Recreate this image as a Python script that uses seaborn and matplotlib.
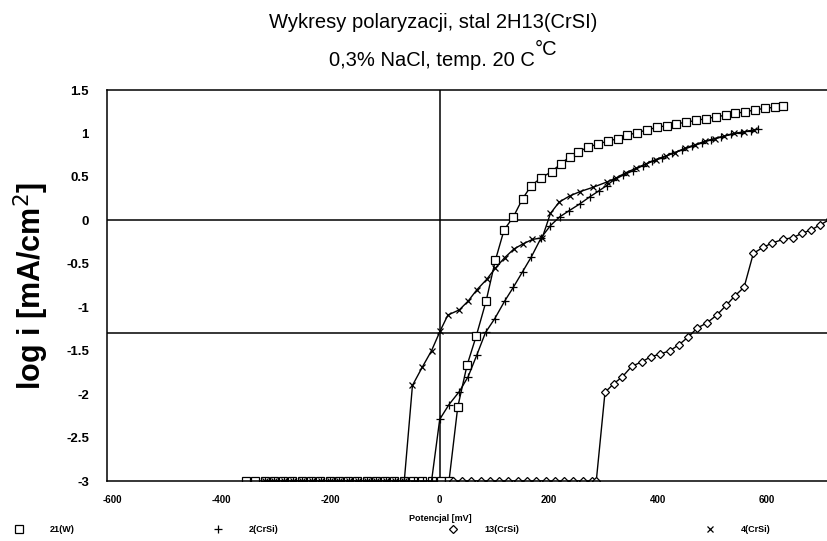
import matplotlib
matplotlib.use("Agg")
import matplotlib.pyplot as plt
from matplotlib.lines import Line2D
import pandas as pd
import seaborn as sns

# values (potential in mV, log i)
w21_mv = [-355, -338, -321, -304, -287, -270, -253, -236, -219, -202, -185, -168,
          -151, -134, -117, -100, -83, -66, -49, -32, -15, 2, 17,
          33, 50, 67, 85, 102, 118, 135, 152, 168, 186, 205, 222, 238, 254, 272,
          290, 308, 326, 344, 362, 380, 398, 416, 434, 452, 470, 488, 506, 524,
          542, 560, 578, 596, 614, 630]
w21_logi = [-3, -3, -3, -3, -3, -3, -3, -3, -3, -3, -3, -3,
            -3, -3, -3, -3, -3, -3, -3, -3, -3, -3, -3,
            -2.15, -1.67, -1.33, -0.93, -0.46, -0.11, 0.04, 0.25, 0.40, 0.49, 0.56,
            0.65, 0.73, 0.79, 0.84, 0.88, 0.91, 0.94, 0.98, 1.01, 1.04, 1.07, 1.09,
            1.11, 1.13, 1.15, 1.17, 1.19, 1.21, 1.23, 1.25, 1.27, 1.29, 1.30, 1.32]

c2_mv = [-320, -303, -286, -269, -252, -235, -218, -201, -184, -167, -150, -133,
         -116, -99, -82, -65, -48, -31, -15,
         0, 17, 36, 52, 68, 84, 101, 119, 135, 152, 168, 186, 203, 220, 237, 257,
         275, 292, 306, 318, 336, 354, 372, 390, 408, 426, 444, 462, 480, 498,
         516, 534, 552, 570, 584]
c2_logi = [-3, -3, -3, -3, -3, -3, -3, -3, -3, -3, -3, -3,
           -3, -3, -3, -3, -3, -3, -3,
           -2.29, -2.12, -1.97, -1.80, -1.55, -1.29, -1.13, -0.93, -0.77, -0.59,
           -0.42, -0.20, -0.06, 0.04, 0.11, 0.19, 0.27, 0.34, 0.40, 0.46, 0.52,
           0.57, 0.63, 0.68, 0.72, 0.77, 0.81, 0.85, 0.89, 0.93, 0.96, 0.99, 1.01,
           1.03, 1.05]

c13_mv = [24, 41, 58, 75, 92, 109, 126, 143, 160, 177, 194, 211, 228, 245, 262,
          279, 287,
          303, 319, 335, 352, 370, 387, 404, 422, 439, 456, 472, 490, 508, 525,
          541, 558, 575, 593, 610, 629, 647, 664, 681, 698, 715]
c13_logi = [-3, -3, -3, -3, -3, -3, -3, -3, -3, -3, -3, -3, -3, -3, -3,
            -3, -3,
            -1.98, -1.88, -1.80, -1.68, -1.63, -1.57, -1.54, -1.50, -1.43, -1.34,
            -1.24, -1.18, -1.09, -0.98, -0.87, -0.77, -0.38, -0.31, -0.26, -0.22,
            -0.20, -0.15, -0.11, -0.05, 0.01]

c4_mv = [-320, -303, -286, -269, -252, -235, -218, -201, -184, -167, -150, -133,
         -116, -99, -82, -65,
         -50, -32, -15, 1, 15, 36, 52, 68, 86, 102, 119, 136, 153, 170, 188, 203,
         219, 238, 257, 281, 306, 324, 342, 360, 378, 396, 414, 432, 450, 468,
         486, 504, 522, 540, 558, 576]
c4_logi = [-3, -3, -3, -3, -3, -3, -3, -3, -3, -3, -3, -3,
           -3, -3, -3, -3,
           -1.90, -1.69, -1.50, -1.27, -1.09, -1.03, -0.93, -0.80, -0.68, -0.55,
           -0.43, -0.33, -0.27, -0.22, -0.20, 0.08, 0.21, 0.28, 0.33, 0.38, 0.44,
           0.49, 0.55, 0.60, 0.65, 0.70, 0.74, 0.78, 0.83, 0.87, 0.91, 0.94, 0.97,
           1.00, 1.02, 1.04]

series_names = ["21(W)", "2(CrSi)", "13(CrSi)", "4(CrSi)"]
series_markers = {"21(W)": "s", "2(CrSi)": "+", "13(CrSi)": "D", "4(CrSi)": "x"}
series_sizes = {"21(W)": 6, "2(CrSi)": 5.5, "13(CrSi)": 3.8, "4(CrSi)": 5}

yticks = [-3, -2.5, -2, -1.5, -1, -0.5, 0, 0.5, 1, 1.5]
ytick_labels = ["-3", "-2.5", "-2", "-1.5", "-1", "-0.5", "0", "0.5", "1", "1.5"]
xticks_major = [-600, -400, -200, 0, 200, 400, 600]
xticks_minor = [-500, -300, -100, 100, 300, 500, 700]

frames = []
for name, mv, li in zip(series_names,
                        [w21_mv, c2_mv, c13_mv, c4_mv],
                        [w21_logi, c2_logi, c13_logi, c4_logi]):
    frames.append(pd.DataFrame({"mV": mv, "logi": li, "seria": name}))
data = pd.concat(frames, ignore_index=True)

sns.set_theme(style="white")
plt.rcParams["font.family"] = ["Liberation Sans", "DejaVu Sans"]
plt.rcParams["text.color"] = "black"
plt.rcParams["axes.labelcolor"] = "black"
plt.rcParams["xtick.color"] = "black"
plt.rcParams["ytick.color"] = "black"

fig = plt.figure(figsize=(8.27, 5.41), dpi=100)
ax = fig.add_axes([107 / 827, 1 - 481 / 541, 1 - 107 / 827, (481 - 90) / 541])

for name in series_names:
    sub = data[data["seria"] == name]
    sns.lineplot(data=sub, x="mV", y="logi", ax=ax, color="black", lw=1.0,
                 marker=series_markers[name], markersize=series_sizes[name],
                 markerfacecolor="white", markeredgecolor="black",
                 markeredgewidth=0.9, sort=False, estimator=None, legend=False)

# reference lines
ax.axhline(0, color="black", lw=1.1, zorder=0)
ax.axhline(-1.3, color="black", lw=1.1, zorder=0)
ax.axvline(0, color="black", lw=1.1, zorder=0)

ax.set_xlim(-610, 710)
ax.set_ylim(-3, 1.5)
ax.set_yticks(yticks)
ax.set_yticklabels(ytick_labels, fontsize=9.5, fontweight="bold")
ax.set_xticks(xticks_major)
ax.set_xticklabels([str(v) for v in xticks_major], fontsize=7,
                   fontweight="bold")
ax.set_xticks(xticks_minor, minor=True)
ax.tick_params(axis="both", which="both", direction="out", color="black",
               width=1.0, length=5)
ax.tick_params(axis="x", which="major", pad=5)
ax.tick_params(axis="y", pad=8)

for side in ["left", "bottom", "top"]:
    ax.spines[side].set_color("black")
    ax.spines[side].set_linewidth(1.1)
ax.spines["right"].set_visible(False)

ax.set_xlabel("Potencjal [mV]", fontsize=6.5, fontweight="bold")
ax.xaxis.set_label_coords((440 - 107) / 720, -0.085)
ax.set_ylabel("log i [mA/cm$^2$]", fontsize=22, fontweight="bold")
ax.yaxis.set_label_coords(-0.078, 0.5)

fig.text(433 / 827, 1 - 22 / 541, "Wykresy polaryzacji, stal 2H13(CrSI)",
         ha="center", va="center", fontsize=14.5)
t2 = fig.text(432 / 827, 1 - 60 / 541, "0,3% NaCl, temp. 20 C",
              ha="center", va="center", fontsize=14.5)
ax.annotate("°C", xy=(1.0, 0.55), xycoords=t2, ha="left", va="bottom",
            fontsize=14.5, annotation_clip=False)

# legend row under the axis
legend_x = [19, 218, 453, 710]
for name, px in zip(series_names, legend_x):
    h = Line2D([], [], ls="none", marker=series_markers[name],
               markersize=series_sizes[name], markerfacecolor="white",
               markeredgecolor="black", markeredgewidth=0.9)
    fig.legend(handles=[h], labels=[name], loc="center left",
               bbox_to_anchor=((px - 5) / 827, 1 - 530 / 541),
               frameon=False, handlelength=1.1, handletextpad=2.9,
               borderpad=0, borderaxespad=0,
               prop={"size": 6.5, "weight": "bold"})

fig.savefig("out.png", dpi=100)
